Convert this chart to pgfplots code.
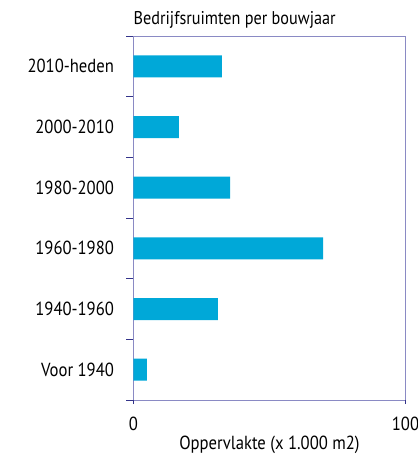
\documentclass[border=0pt]{standalone}
\usepackage{fontspec}
\setmainfont[FakeStretch=0.88]{PT Sans}
\usepackage{pgfplots}
\pgfplotsset{compat=1.18}
\definecolor{barblue}{HTML}{00A8D8}
\definecolor{frame}{HTML}{8A8AC4}
\definecolor{tickc}{HTML}{34348A}
\begin{document}
\begin{tikzpicture}
\begin{axis}[
  scale only axis, width=272bp, height=364bp,
  xmin=0, xmax=100, ymin=-0.5, ymax=5.5,
  xtick={0,100}, xtick pos=bottom, xtick align=outside,
  ytick={0,...,5}, ytick pos=left,
  yticklabels={Voor 1940,1940-1960,1960-1980,1980-2000,2000-2010,2010-heden},
  major tick length=0pt,
  minor ytick={-0.5,0.5,...,5.5}, ytick align=outside,
  minor tick length=7bp,
  extra x ticks={0,100}, extra x tick labels={},
  extra x tick style={major tick length=4bp, tick style={tickc}},
  axis line style={frame, line width=1pt},
  every tick/.style={tickc, line width=0.8pt},
  tick label style={font=\fontsize{19}{21}\selectfont},
  yticklabel style={xshift=-16bp},
  xticklabel style={yshift=-14bp, inner xsep=0pt},
  xlabel={Oppervlakte (x 1.000 m2)},
  xlabel style={font=\fontsize{19}{21}\selectfont, inner sep=0pt, yshift=3bp},
  title={Bedrijfsruimten per bouwjaar},
  title style={font=\fontsize{18.5}{20}\selectfont, anchor=south west,
    at={(rel axis cs:0,1)}, inner sep=0pt, yshift=1bp},
  /pgf/number format/assume math mode=true,
]
\addplot[xbar, bar width=22bp, fill=barblue, draw=none]
coordinates {
  (4.9,0) (31,1) (69.7,2) (35.5,3) (16.7,4) (32.5,5)
};
\end{axis}
\pgfresetboundingbox
\path (current axis.south west) ++(-133.5bp,-57bp) rectangle ++(418bp,457bp);
\end{tikzpicture}
\end{document}
